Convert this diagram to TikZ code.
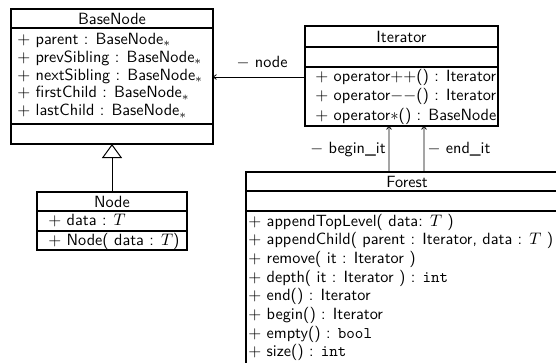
\documentclass[tikz,border=0pt]{standalone}
\usetikzlibrary{arrows.meta}
\begin{document}
\begin{tikzpicture}[x=0.6pt,y=-0.6pt,
  font=\sffamily\fontsize{9.75}{11.7}\selectfont,
  classbox/.style={draw,line width=1.1pt,inner sep=0pt,outer sep=0pt,anchor=north west},
  sep/.style={line width=1.1pt},
  hd/.style={inner sep=0pt,anchor=center},
  mem/.style={inner sep=0pt,anchor=west,text height=6.8pt,text depth=1.95pt},
  lbl/.style={inner sep=0pt,anchor=center,text height=6.8pt,text depth=1.95pt},
  assoc/.style={line width=0.45pt,-{To[length=2.2pt,width=3.2pt]}},
  inherit/.style={line width=0.6pt,-{Triangle[open,length=8.4pt,width=12pt,line width=0.6pt]}}]
\useasboundingbox (0,0) rectangle (556,363);
% boxes
\node[classbox,minimum width=121.2pt,minimum height=81pt] (base) at (11,9) {};
\node[classbox,minimum width=90pt,minimum height=34.8pt] (node) at (37,192) {};
\node[classbox,minimum width=115.8pt,minimum height=60pt] (iter) at (305,26) {};
\node[classbox,minimum width=193.2pt,minimum height=120pt] (forest) at (246,172) {};
% separators
\draw[sep] (11,28) -- (213,28);
\draw[sep] (11,124) -- (213,124);
\draw[sep] (37,211) -- (187,211);
\draw[sep] (37,231) -- (187,231);
\draw[sep] (305,47) -- (498,47);
\draw[sep] (305,67) -- (498,67);
\draw[sep] (246,191) -- (568,191);
\draw[sep] (246,211) -- (568,211);
% headers
\node[hd] (baseh) at (112,18.5) {BaseNode};
\node[hd] (nodeh) at (112,201.5) {Node};
\node[hd] (iterh) at (401.5,36.5) {Iterator};
\node[hd] (foresth) at (407,181.5) {Forest};
% BaseNode attributes
\node[mem] (ba1) at (17,40) {$+$ parent : BaseNode$_*$};
\node[mem] (ba2) at (17,58) {$+$ prevSibling : BaseNode$_*$};
\node[mem] (ba3) at (17,76) {$+$ nextSibling : BaseNode$_*$};
\node[mem] (ba4) at (17,93.5) {$+$ firstChild : BaseNode$_*$};
\node[mem] (ba5) at (17,111.5) {$+$ lastChild : BaseNode$_*$};
% Node
\node[mem] (na1) at (48,221) {$+$ data : $T$};
\node[mem] (no1) at (48,241) {$+$ Node( data : $T$)};
% Iterator ops
\node[mem] (io1) at (315,77) {$+$ operator$++$() : Iterator};
\node[mem] (io2) at (315,96.5) {$+$ operator$--$() : Iterator};
\node[mem] (io3) at (315,116) {$+$ operator$*$() : BaseNode};
% Forest ops
\node[mem] (fo1) at (248,222) {$+$ appendTopLevel( data: $T$ )};
\node[mem] (fo2) at (248,240.7) {$+$ appendChild( parent : Iterator, data : $T$ )};
\node[mem] (fo3) at (248,259.4) {$+$ remove( it : Iterator )};
\node[mem] (fo4) at (248,278.1) {$+$ depth( it : Iterator ) : \texttt{int}};
\node[mem] (fo5) at (248,296.8) {$+$ end() : Iterator};
\node[mem] (fo6) at (248,315.5) {$+$ begin() : Iterator};
\node[mem] (fo7) at (248,334.2) {$+$ empty() : \texttt{bool}};
\node[mem] (fo8) at (248,352.9) {$+$ size() : \texttt{int}};
% labels
\node[lbl] (lnode) at (262,63) {$-$ node};
\node[lbl] (lbegin) at (348,149) {$-$ begin\_it};
\node[lbl] (lend) at (459,149) {$-$ end\_it};
% connectors
\draw[assoc] (iter.west |- io1) -- (base.east |- io1);
\draw[assoc] ([xshift=-10.8pt]forest.north) -- ([xshift=-7.5pt]iter.south);
\draw[assoc] ([xshift=10.2pt]forest.north) -- ([xshift=13.5pt]iter.south);
\draw[inherit] (node.north -| baseh) -- (base.south -| baseh);
\end{tikzpicture}
\end{document}
